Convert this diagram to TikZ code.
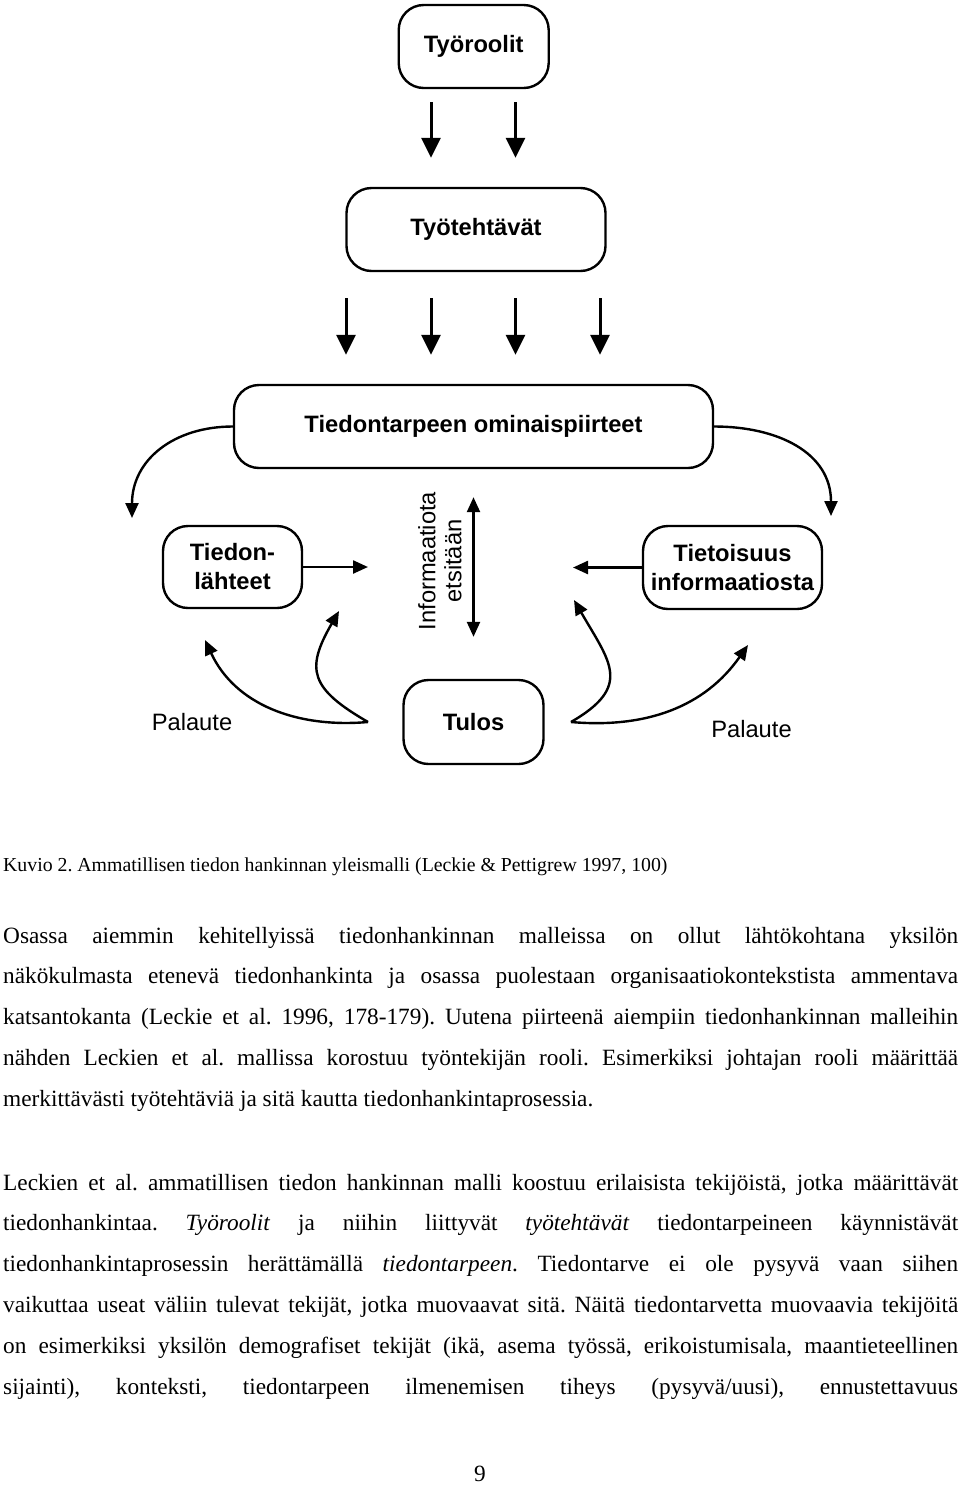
\documentclass[tikz,border=0pt]{standalone}
\usepackage{fontspec}
\setmainfont{Liberation Serif}
\setsansfont{Liberation Sans}
\usetikzlibrary{positioning, arrows.meta, calc}
\frenchspacing
\newcommand\jline[1]{\makebox[955pt][s]{#1}}
\tikzset{
  box/.style    = {draw, rounded corners=25pt, line width=2.4pt, align=center,
                   inner sep=0pt, font=\sffamily\bfseries\fontsize{23.7}{29}\selectfont},
  bigar/.style  = {-{Triangle[length=20pt, width=19pt]}, line width=3pt},
  ar/.style     = {-{Triangle[length=15pt, width=13pt]}, line width=2.4pt},
  dblar/.style  = {{Triangle[length=15pt, width=13pt]}-{Triangle[length=15pt, width=13pt]},
                   line width=2.4pt},
  lbl/.style    = {font=\sffamily\fontsize{23.7}{26}\selectfont, inner sep=0pt},
  txt/.style    = {anchor=base west, inner sep=0pt, font=\fontsize{23.3}{28}\selectfont\frenchspacing},
  captxt/.style = {anchor=base west, inner sep=0pt, font=\fontsize{19.8}{24}\selectfont\frenchspacing},
}

\begin{document}
\begin{tikzpicture}[x=1pt, y=-1pt]
  \useasboundingbox (0,0) rectangle (960,1486);
  % boxes
  \node[box, minimum width=150pt, minimum height=83pt] (tyoroolit)   at (473.7,46.5) {Työroolit};
  \node[box, minimum width=259pt, minimum height=83pt] (tyotehtavat) at (476,229.5)  {Työtehtävät};
  \node[box, minimum width=479pt, minimum height=83pt] (piirteet)    at (473.5,426.5) {Tiedontarpeen ominaispiirteet};
  \node[box, minimum width=139pt, minimum height=82pt] (lahteet)     at (232.5,567)  {Tiedon-\\lähteet};
  \node[box, minimum width=179pt, minimum height=83pt] (tietoisuus)  at (732.5,567.5) {Tietoisuus\\informaatiosta};
  \node[box, minimum width=140pt, minimum height=84pt] (tulos)       at (473.5,722)  {Tulos};
  % straight arrows
  \foreach \x [count=\i] in {346,431,515.5,600}
    \coordinate (col\i) at (\x,0);
  \foreach \i in {2,3}
    \draw[bigar, shorten <=13pt, shorten >=29pt] (col\i |- tyoroolit.south) -- (col\i |- tyotehtavat.north);
  \foreach \i in {1,...,4}
    \draw[bigar, shorten <=26pt, shorten >=29pt] (col\i |- tyotehtavat.south) -- (col\i |- piirteet.north);
  % side curves
  \coordinate (lside) at (132,518);
  \coordinate (rside) at (831,516);
  \draw[ar] (piirteet.west) to[out=180, in=90, looseness=1.1] (lside);
  \draw[ar] (piirteet.east) to[out=0, in=90, looseness=1.1] (rside);
  \coordinate (lend) at (368,567);
  \coordinate (rend) at (573,567.5);
  \draw[ar] (lahteet.east) -- (lend);
  \draw[ar] (tietoisuus.west) -- (rend);
  \draw[dblar, shorten <=28pt, shorten >=42pt] (piirteet.south) -- (tulos.north);
  \node[lbl, rotate=90, align=center] (etsi) at (440,561) {Informaatiota\\etsitään};
  % feedback
  \coordinate (lcusp) at (368,722);
  \coordinate (rcusp) at (571,722);
  \coordinate (lout) at (205,640);
  \coordinate (lin)  at (339,611);
  \coordinate (rin)  at (574,600);
  \coordinate (rout) at (748,645);
  \draw[ar] (lcusp) to[out=185, in=-65] (lout);
  \draw[ar] (lcusp) to[out=150, in=-120, looseness=1.5] (lin);
  \draw[ar] (rcusp) to[out=30, in=-60, looseness=1.5] (rin);
  \draw[ar] (rcusp) to[out=-5, in=-125] (rout);
  \node[lbl, anchor=base] (palaute1) at (192,730) {Palaute};
  \node[lbl, anchor=base] (palaute2) at (751.5,737) {Palaute};
  % text
  \node[captxt] (kuvio) at (3,871) {Kuvio 2. Ammatillisen tiedon hankinnan yleismalli (Leckie \& Pettigrew 1997, 100)};
  \node[txt] (r1) at (3,943)    {\jline{Osassa aiemmin kehitellyissä tiedonhankinnan malleissa on ollut lähtökohtana yksilön}};
  \node[txt] (r2) at (3,983.8)  {\jline{näkökulmasta etenevä tiedonhankinta ja osassa puolestaan organisaatiokontekstista ammentava}};
  \node[txt] (r3) at (3,1024.6) {\jline{katsantokanta (Leckie et al. 1996, 178-179). Uutena piirteenä aiempiin tiedonhankinnan malleihin}};
  \node[txt] (r4) at (3,1065.4) {\jline{nähden Leckien et al. mallissa korostuu työntekijän rooli. Esimerkiksi johtajan rooli määrittää}};
  \node[txt] (r5) at (3,1106.2) {merkittävästi työtehtäviä ja sitä kautta tiedonhankintaprosessia.};
  \node[txt] (s1) at (3,1190)   {\jline{Leckien et al. ammatillisen tiedon hankinnan malli koostuu erilaisista tekijöistä, jotka määrittävät}};
  \node[txt] (s2) at (3,1230.8) {\jline{tiedonhankintaa. \textit{Työroolit} ja niihin liittyvät \textit{työtehtävät} tiedontarpeineen käynnistävät}};
  \node[txt] (s3) at (3,1271.6) {\jline{tiedonhankintaprosessin herättämällä \textit{tiedontarpeen}. Tiedontarve ei ole pysyvä vaan siihen}};
  \node[txt] (s4) at (3,1312.4) {\jline{vaikuttaa useat väliin tulevat tekijät, jotka muovaavat sitä. Näitä tiedontarvetta muovaavia tekijöitä}};
  \node[txt] (s5) at (3,1353.2) {\jline{on esimerkiksi yksilön demografiset tekijät (ikä, asema työssä, erikoistumisala, maantieteellinen}};
  \node[txt] (s6) at (3,1394)   {\jline{sijainti), konteksti, tiedontarpeen ilmenemisen tiheys (pysyvä/uusi), ennustettavuus}};
  \node[txt, anchor=base] (sivu) at (480,1481) {9};
\end{tikzpicture}
\end{document}
